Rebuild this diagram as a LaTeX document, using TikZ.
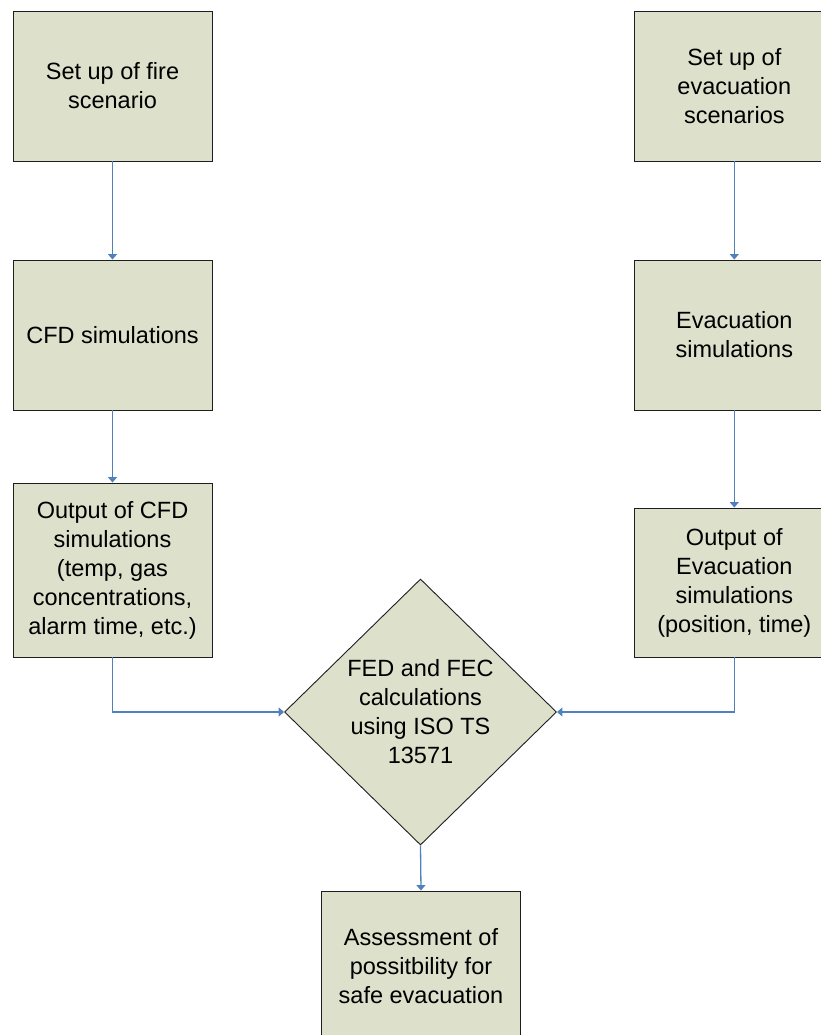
\documentclass[tikz,border=0pt]{standalone}
\usepackage{fontspec}
\setmainfont{Liberation Sans}
\usetikzlibrary{shapes.geometric,arrows.meta}
\definecolor{boxfill}{RGB}{221,224,203}
\definecolor{linkblue}{RGB}{79,129,189}
\definecolor{boxline}{RGB}{30,30,30}
\tikzset{
  flowbox/.style={draw=boxline, fill=boxfill, line width=0.9pt, rectangle,
    inner sep=0pt, align=center,
    font=\fontsize{23.5pt}{29pt}\selectfont},
  decision/.style={draw=boxline, fill=boxfill, line width=0.9pt, diamond,
    inner sep=0pt, aspect=1, align=center, minimum width=272pt, minimum height=266pt,
    font=\fontsize{23.5pt}{29pt}\selectfont},
  link/.style={draw=linkblue, line width=1.3pt,
    -{Triangle[width=9pt,length=5.5pt]}},
}
\begin{document}
\begin{tikzpicture}[x=1pt,y=-1pt]
\useasboundingbox (0,0) rectangle (821,1035);
\clip (0,0) rectangle (821,1035);
\node[flowbox, minimum width=199pt, minimum height=150pt] (fire) at (112.5,86) {Set up of fire\\scenario};
\node[flowbox, minimum width=200pt, minimum height=150pt] (evset) at (734.3,86) {Set up of\\evacuation\\scenarios};
\node[flowbox, minimum width=199pt, minimum height=150pt] (cfd) at (112.5,335) {CFD simulations};
\node[flowbox, minimum width=200pt, minimum height=150pt] (evsim) at (734.3,335) {Evacuation\\simulations};
\node[flowbox, minimum width=199pt, minimum height=174pt] (cfdout) at (112.5,570) {Output of CFD\\simulations\\(temp, gas\\concentrations,\\alarm time, etc.)};
\node[flowbox, minimum width=200pt, minimum height=149pt] (evout) at (734.3,582.5) {Output of\\Evacuation\\simulations\\(position, time)};
\node[decision] (fed) at (420.5,712) {FED and FEC\\calculations\\using ISO TS\\13571};
\node[flowbox, minimum width=199pt, minimum height=150pt] (assess) at (421,966) {Assessment of\\possitbility for\\safe evacuation};
\draw[link] (fire) -- (cfd);
\draw[link] (cfd) -- (cfdout);
\draw[link] (evset) -- (evsim);
\draw[link] (evsim) -- (evout);
\draw[link] (cfdout.south) |- (fed.west);
\draw[link] (evout.south) |- (fed.east);
\draw[link] (fed.south) -- (assess.north);
\end{tikzpicture}
\end{document}
